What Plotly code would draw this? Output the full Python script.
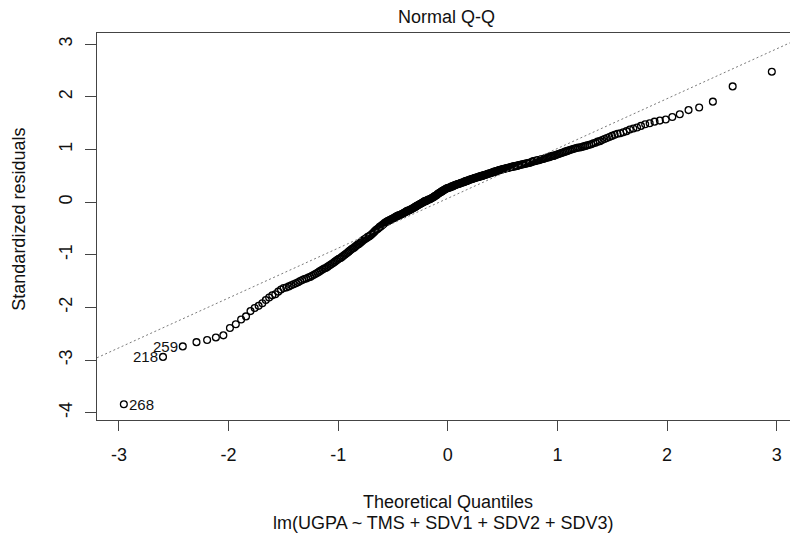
import plotly.graph_objects as go
from statistics import NormalDist

# Sorted standardized residuals
std_residuals = [
    -3.84, -2.94, -2.74, -2.66, -2.62, -2.57, -2.53, -2.39, -2.32, -2.23,
    -2.17, -2.07, -2.01, -1.97, -1.92, -1.86, -1.81, -1.77, -1.75, -1.70,
    -1.66, -1.63, -1.62, -1.60, -1.58, -1.56, -1.54, -1.52, -1.50, -1.48,
    -1.46, -1.45, -1.43, -1.42, -1.40, -1.38, -1.36, -1.34, -1.32, -1.30,
    -1.28, -1.26, -1.25, -1.23, -1.21, -1.19, -1.17, -1.15, -1.13, -1.11,
    -1.09, -1.07, -1.06, -1.04, -1.02, -1.00, -0.98, -0.96, -0.94, -0.92,
    -0.90, -0.88, -0.87, -0.85, -0.83, -0.81, -0.80, -0.78, -0.76, -0.74,
    -0.72, -0.71, -0.69, -0.68, -0.66, -0.65, -0.64, -0.62, -0.60, -0.58,
    -0.56, -0.54, -0.52, -0.51, -0.49, -0.47, -0.46, -0.44, -0.43, -0.41,
    -0.39, -0.38, -0.37, -0.36, -0.35, -0.34, -0.33, -0.32, -0.31, -0.30,
    -0.29, -0.28, -0.27, -0.26, -0.25, -0.25, -0.24, -0.23, -0.22, -0.21,
    -0.20, -0.19, -0.18, -0.17, -0.16, -0.16, -0.15, -0.14, -0.13, -0.12,
    -0.11, -0.10, -0.09, -0.08, -0.07, -0.06, -0.05, -0.04, -0.03, -0.02,
    -0.01, 0.00, 0.01, 0.02, 0.02, 0.03, 0.04, 0.05, 0.05, 0.06,
    0.07, 0.08, 0.09, 0.10, 0.11, 0.12, 0.13, 0.14, 0.16, 0.17,
    0.18, 0.19, 0.20, 0.21, 0.22, 0.23, 0.24, 0.25, 0.26, 0.27,
    0.27, 0.28, 0.28, 0.29, 0.30, 0.30, 0.31, 0.32, 0.32, 0.33,
    0.34, 0.34, 0.35, 0.35, 0.36, 0.37, 0.37, 0.38, 0.38, 0.39,
    0.40, 0.40, 0.41, 0.41, 0.42, 0.43, 0.43, 0.44, 0.44, 0.45,
    0.46, 0.46, 0.47, 0.47, 0.48, 0.48, 0.49, 0.49, 0.50, 0.50,
    0.51, 0.51, 0.52, 0.52, 0.53, 0.54, 0.54, 0.55, 0.55, 0.56,
    0.57, 0.57, 0.58, 0.58, 0.59, 0.59, 0.60, 0.61, 0.61, 0.62,
    0.62, 0.63, 0.63, 0.64, 0.64, 0.65, 0.65, 0.66, 0.66, 0.67,
    0.67, 0.68, 0.68, 0.68, 0.69, 0.69, 0.70, 0.70, 0.71, 0.71,
    0.72, 0.72, 0.73, 0.73, 0.74, 0.74, 0.75, 0.75, 0.76, 0.77,
    0.78, 0.78, 0.79, 0.79, 0.80, 0.80, 0.81, 0.82, 0.82, 0.83,
    0.84, 0.85, 0.85, 0.86, 0.87, 0.88, 0.88, 0.89, 0.90, 0.91,
    0.92, 0.93, 0.94, 0.95, 0.96, 0.97, 0.98, 0.99, 1.00, 1.01,
    1.02, 1.03, 1.04, 1.04, 1.05, 1.06, 1.07, 1.08, 1.09, 1.10,
    1.12, 1.13, 1.15, 1.16, 1.18, 1.20, 1.22, 1.24, 1.26, 1.28,
    1.30, 1.31, 1.33, 1.35, 1.38, 1.40, 1.42, 1.45, 1.48, 1.50,
    1.53, 1.55, 1.57, 1.62, 1.67, 1.75, 1.80, 1.91, 2.20, 2.48,
]

# Identified observations (index into sorted list -> observation id)
id_index = [0, 1, 2]
id_labels = ["268", "218", "259"]
id_side = ["right", "left", "left"]

x_tick_vals = [-3, -2, -1, 0, 1, 2, 3]
y_tick_vals = [-4, -3, -2, -1, 0, 1, 2, 3]

title_text = "Normal Q-Q"
x_title = "Theoretical Quantiles"
sub_title = "lm(UGPA ~ TMS + SDV1 + SDV2 + SDV3)"
y_title = "Standardized residuals"

# ---- theoretical quantiles (as R's qqnorm: ppoints) ----
n = len(std_residuals)
nd = NormalDist()
a = 3 / 8 if n <= 10 else 0.5
theo = [nd.inv_cdf((i + 1 - a) / (n + 1 - 2 * a)) for i in range(n)]


def quantile7(vals, p):
    s = sorted(vals)
    h = (len(s) - 1) * p
    lo = int(h)
    hi = min(lo + 1, len(s) - 1)
    return s[lo] + (h - lo) * (s[hi] - s[lo])


# qqline through first and third quartiles
y1, y3 = quantile7(std_residuals, 0.25), quantile7(std_residuals, 0.75)
x1, x3 = nd.inv_cdf(0.25), nd.inv_cdf(0.75)
slope = (y3 - y1) / (x3 - x1)
intercept = y1 - slope * x1

X_RANGE = [-3.2, 3.121]
Y_RANGE = [-4.139, 3.215]

FONT = "Arial, 'Liberation Sans', Helvetica, sans-serif"
TXT = "#111111"
AX = "#444444"

fig = go.Figure()
fig.add_trace(go.Scatter(
    x=theo, y=std_residuals, mode="markers",
    marker=dict(symbol="circle-open", size=6.8, color="#000000",
                line=dict(width=1.3, color="#000000")),
    hoverinfo="skip", showlegend=False,
))
fig.add_trace(go.Scatter(
    x=X_RANGE, y=[intercept + slope * v for v in X_RANGE], mode="lines",
    line=dict(color="#7a7a7a", width=1, dash="2px,2.5px"),
    hoverinfo="skip", showlegend=False,
))

annotations = []
for idx, lab, side in zip(id_index, id_labels, id_side):
    annotations.append(dict(
        x=theo[idx], y=std_residuals[idx], xref="x", yref="y", text=lab,
        showarrow=False, font=dict(family=FONT, size=15, color=TXT),
        xanchor="left" if side == "right" else "right",
        xshift=3 if side == "right" else -3, yanchor="middle",
    ))

annotations += [
    dict(text=title_text, x=0.5043, y=1.0413, xref="paper", yref="paper",
         showarrow=False, xanchor="center", yanchor="middle",
         font=dict(family=FONT, size=18, color=TXT)),
    dict(text=x_title, x=0.5065, y=-0.2106, xref="paper", yref="paper",
         showarrow=False, xanchor="center", yanchor="middle",
         font=dict(family=FONT, size=18, color=TXT)),
    dict(text=sub_title, x=0.4993, y=-0.2665, xref="paper", yref="paper",
         showarrow=False, xanchor="center", yanchor="middle",
         font=dict(family=FONT, size=18, color=TXT)),
    dict(text=y_title, x=-0.1118, y=0.519, xref="paper", yref="paper",
         showarrow=False, xanchor="center", yanchor="middle", textangle=-90,
         font=dict(family=FONT, size=18, color=TXT)),
]

fig.update_layout(
    width=790, height=536,
    margin=dict(l=97, r=0, t=33, b=116, pad=0),
    paper_bgcolor="white", plot_bgcolor="white",
    showlegend=False,
    annotations=annotations,
    xaxis=dict(range=X_RANGE, tickmode="array", tickvals=x_tick_vals,
               ticktext=[str(v) for v in x_tick_vals],
               showgrid=False, zeroline=False, showline=True, mirror=True,
               linecolor=AX, linewidth=1.3, ticks="outside", ticklen=10,
               tickwidth=1.3, tickcolor=AX, ticklabelstandoff=8,
               tickfont=dict(family=FONT, size=18, color=TXT)),
    yaxis=dict(range=Y_RANGE, tickmode="array", tickvals=y_tick_vals,
               ticktext=[str(v) for v in y_tick_vals],
               showgrid=False, zeroline=False, showline=True, mirror=False,
               linecolor=AX, linewidth=1.3, ticks="outside", ticklen=11,
               tickwidth=1.3, tickcolor=AX, tickangle=-90,
               ticklabelstandoff=6,
               tickfont=dict(family=FONT, size=18, color=TXT)),
)

fig.write_html("out.html")
